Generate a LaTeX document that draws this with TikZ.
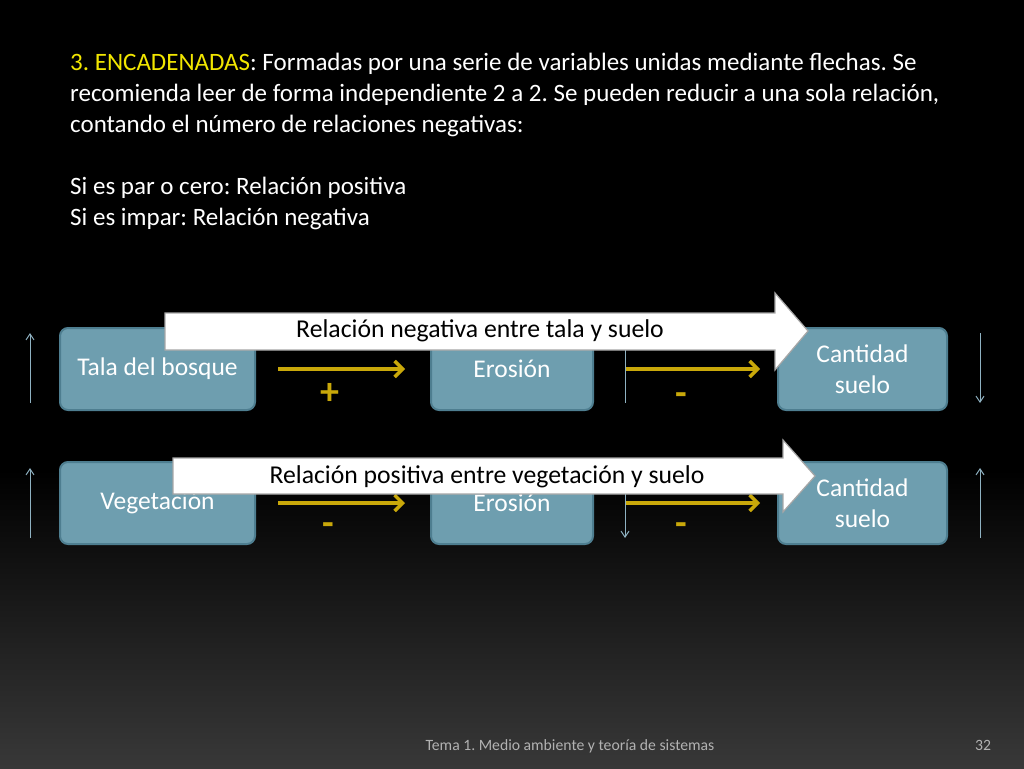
\documentclass[tikz,border=0pt]{standalone}
\usepackage{fontspec}
\setmainfont{Carlito}
\frenchspacing
\definecolor{boxfill}{HTML}{6E9EAF}
\definecolor{boxline}{HTML}{4E7E90}
\definecolor{gold}{HTML}{C9A80A}
\definecolor{titleyellow}{HTML}{F2E600}
\definecolor{thinline}{HTML}{8FB2C2}
\tikzset{
  varbox/.style={draw=boxline, line width=2pt, fill=boxfill, rounded corners=8pt,
    text=white, font=\fontsize{25.5}{31}\selectfont, align=center, minimum height=82pt},
  goldarrow/.style={-{Straight Barb[length=8pt,width=16pt]}, gold, line width=3.5pt},
  signtext/.style={text=gold, font=\bfseries\fontsize{38}{38}\selectfont},
  trend/.style={-{Straight Barb[length=6pt,width=8pt]}, thinline, line width=1pt},
  bigarrow/.style={fill=white, draw=gray!70, line width=1.2pt},
  bigtext/.style={font=\fontsize{25.7}{30}\selectfont, text=black},
  bodytext/.style={text=white, font=\fontsize{25}{31}\selectfont, anchor=north west, align=left, inner sep=0pt}
}
\newcommand{\lowtext}[1]{\raisebox{-3pt}{#1}}
\usetikzlibrary{arrows.meta}
\begin{document}
\begin{tikzpicture}[x=1pt,y=-1pt]
    \useasboundingbox (0,0) rectangle (1024,768);
    % background
    \fill[black] (0,0) rectangle (1024,470);
    \shade[top color=black, bottom color=black!78] (0,470) rectangle (1024,768);

    % heading text
    \node[bodytext] (intro) at (70,53) {\textcolor{titleyellow}{3. ENCADENADAS}: Formadas por una serie de variables unidas mediante flechas. Se\\
      recomienda leer de forma independiente 2 a 2. Se pueden reducir a una sola relación,\\
      contando el número de relaciones negativas:\\[31pt]
      Si es par o cero: Relación positiva\\
      Si es impar: Relación negativa};

    % first chain
    \node[varbox, minimum width=195pt] (tala) at (157.5,369) {\lowtext{Tala del bosque}};
    \node[varbox, minimum width=162pt] (ero1) at (512,369) {\lowtext{Erosión}};
    \node[varbox, minimum width=169pt] (suelo1) at (862.5,369) {Cantidad\\suelo};
    \draw[goldarrow] (278,369) -- (405,369);
    \draw[goldarrow] (626,369) -- (760,369);
    \node[signtext] (s1) at (330,394) {+};
    \node[signtext] (s2) at (681,399) {-};
    \draw[trend] (30,403) -- (30,333);
    \draw[thinline, line width=1pt] (625,345) -- (625,403);
    \draw[trend] (980,333) -- (980,403);
    \draw[bigarrow] (165,313) -- (775,313) -- (775,293) -- (808,331) -- (775,370) -- (775,350) -- (165,350) -- cycle;
    \node[bigtext] (rel1) at (480,331) {Relación negativa entre tala y suelo};

    % second chain
    \node[varbox, minimum width=195pt] (veg) at (157.5,503) {\lowtext{Vegetación}};
    \node[varbox, minimum width=162pt] (ero2) at (512,503) {\lowtext{Erosión}};
    \node[varbox, minimum width=169pt] (suelo2) at (862.5,503) {Cantidad\\suelo};
    \draw[goldarrow] (278,503) -- (405,503);
    \draw[goldarrow] (626,503) -- (760,503);
    \node[signtext] (s3) at (328,529) {-};
    \node[signtext] (s4) at (681,529) {-};
    \draw[trend] (30,538) -- (30,468);
    \draw[trend] (625,480) -- (625,538);
    \draw[trend] (980,538) -- (980,468);
    \draw[bigarrow] (173,458) -- (783,458) -- (783,440) -- (815,476) -- (783,512) -- (783,494) -- (173,494) -- cycle;
    \node[bigtext] (rel2) at (487,477) {Relación positiva entre vegetación y suelo};

    % footer
    \node[text=gray!60, font=\fontsize{15.7}{18}\selectfont] (foot) at (570,746) {Tema 1. Medio ambiente y teoría de sistemas};
    \node[text=gray!60, font=\fontsize{15.7}{18}\selectfont] (page) at (983,745) {32};
\end{tikzpicture}
\end{document}
